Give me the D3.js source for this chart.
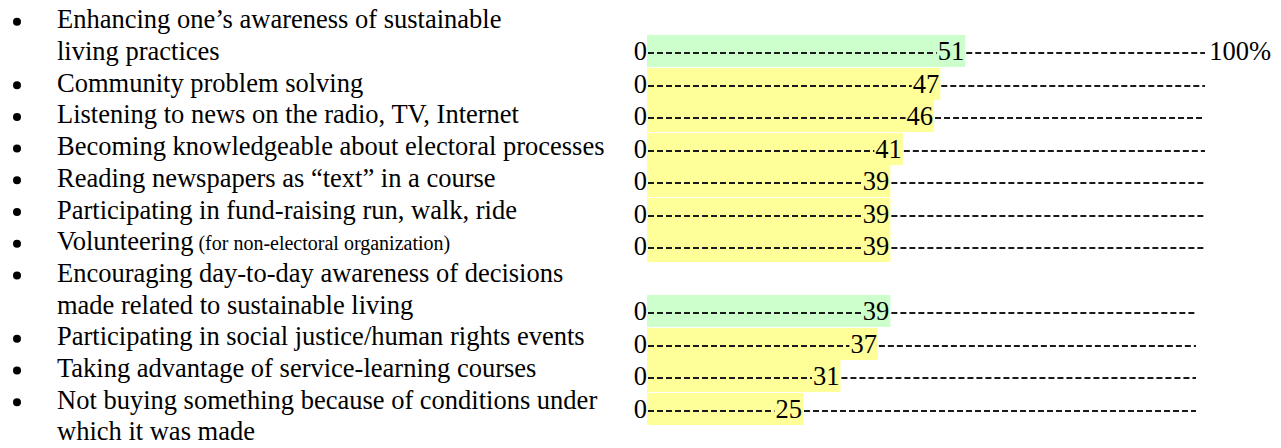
<!DOCTYPE html>
<html>
<head>
<meta charset="utf-8">
<script src="https://cdn.jsdelivr.net/npm/d3@7"></script>
<style>
body{margin:0;background:#fff;}
svg{display:block;}
text{font-family:"Liberation Serif","Times New Roman",serif;fill:#000;}
</style>
</head>
<body>
<div id="chart"></div>
<script>
// activity labels (one entry per bullet, wrapped lines as in the handout)
var labels = [
  ["Enhancing one\u2019s awareness of sustainable", "living practices"],
  ["Community problem solving"],
  ["Listening to news on the radio, TV, Internet"],
  ["Becoming knowledgeable about electoral processes"],
  ["Reading newspapers as \u201ctext\u201d in a course"],
  ["Participating in fund-raising run, walk, ride"],
  ["Volunteering"],
  ["Encouraging day-to-day awareness of decisions", "made related to sustainable living"],
  ["Participating in social justice/human rights events"],
  ["Taking advantage of service-learning courses"],
  ["Not buying something because of conditions under", "which it was made"]
];
// small print after a label
var notes = ["", "", "", "", "", "", "(for non-electoral organization)", "", "", "", ""];
// percent of respondents
var values = [51, 47, 46, 41, 39, 39, 39, 39, 37, 31, 25];
// which label line the bar sits on
var barLine = [1, 0, 0, 0, 0, 0, 0, 1, 0, 0, 0];
// sustainability items are highlighted green, the rest yellow
var kinds = ["sust", "civic", "civic", "civic", "civic", "civic", "civic", "sust", "civic", "civic", "civic"];
var scaleEnds = ["0", "100%"];

var width = 1281, height = 448;
var fontSize = 26.5;

var svg = d3.select("#chart").append("svg")
    .attr("width", width)
    .attr("height", height);

// x: percent scale; label column and bar column have slightly different line pitch
var x = d3.scaleLinear().domain([0, 100]).range([647, 1271]);
var yLabel = d3.scaleLinear().domain([0, 1]).range([28.3, 60]);
var yBar = d3.scaleLinear().domain([0, 1]).range([27.5, 60]);
var color = d3.scaleOrdinal().domain(["sust", "civic"]).range(["#ccffcc", "#ffff99"]);

// work out line index of each item
var rows = [];
var line = 0;
labels.forEach(function(l, i) {
    rows.push({label: l, note: notes[i], value: values[i], kind: kinds[i],
               first: line, bar: line + barLine[i], idx: i});
    line += l.length;
});

// highlight bars first so text sits on top
svg.selectAll("rect.bar")
    .data(rows)
  .enter().append("rect")
    .attr("class", "bar")
    .attr("x", x(0))
    .attr("y", function(d) { return Math.round(yBar(d.bar)) - 25; })
    .attr("width", function(d) { return x(d.value) - x(0); })
    .attr("height", 32)
    .attr("fill", function(d) { return color(d.kind); });

var item = svg.selectAll("g.item")
    .data(rows)
  .enter().append("g")
    .attr("class", "item");

// bullets
item.append("circle")
    .attr("cx", 17)
    .attr("cy", function(d) { return yLabel(d.first) - 6.5; })
    .attr("r", 4)
    .attr("fill", "#000");

// label text
item.each(function(d) {
    var g = d3.select(this);
    d.label.forEach(function(s, j) {
        var t = g.append("text")
            .attr("x", 57)
            .attr("y", yLabel(d.first + j))
            .style("font-size", fontSize + "px")
            .text(s);
        if (j == d.label.length - 1 && d.note) {
            t.append("tspan")
                .style("font-size", "20px")
                .text(" " + d.note);
        }
    });
});

// the "0------NN------" scale lines
item.each(function(d) {
    var g = d3.select(this);
    var by = Math.round(yBar(d.bar));
    var lineEnd = d.idx < 7 ? x(100) - 66 : x(100) - 75;

    g.append("text")
        .attr("x", x(0))
        .attr("y", by)
        .attr("text-anchor", "end")
        .style("font-size", fontSize + "px")
        .text(scaleEnds[0]);

    var num = g.append("text")
        .attr("x", x(d.value) - 1)
        .attr("y", by)
        .attr("text-anchor", "end")
        .style("font-size", fontSize + "px")
        .text(d.value);
    var w = num.node().getComputedTextLength();

    g.append("line")
        .attr("x1", x(0) + 1)
        .attr("x2", x(d.value) - 1 - w - 1)
        .attr("y1", by - 7).attr("y2", by - 7)
        .attr("stroke", "#1a1a1a")
        .attr("stroke-width", 2)
        .attr("stroke-dasharray", "6,3");

    g.append("line")
        .attr("x1", x(d.value) + 1)
        .attr("x2", lineEnd)
        .attr("y1", by - 7).attr("y2", by - 7)
        .attr("stroke", "#1a1a1a")
        .attr("stroke-width", 2)
        .attr("stroke-dasharray", "6,3");

    if (d.idx == 0) {
        g.append("text")
            .attr("x", x(100))
            .attr("y", by)
            .attr("text-anchor", "end")
            .style("font-size", fontSize + "px")
            .text(scaleEnds[1]);
    }
});
</script>
</body>
</html>
